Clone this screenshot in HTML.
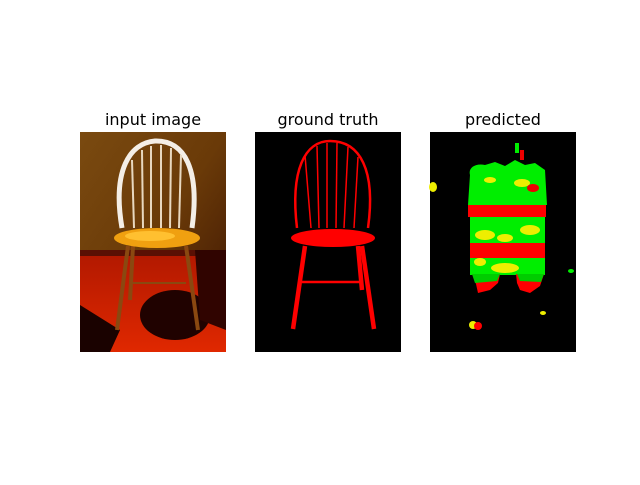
<!DOCTYPE html>
<html><head><meta charset="utf-8"><style>
body{margin:0;background:#fff;width:640px;height:480px;overflow:hidden;font-family:"Liberation Sans","DejaVu Sans",sans-serif}
</style></head><body>
<svg width="640" height="480" viewBox="0 0 640 480" font-family="DejaVu Sans, Liberation Sans, sans-serif">
<defs>
<linearGradient id="wall" x1="0" y1="0" x2="1" y2="1">
<stop offset="0" stop-color="#7a4a10"/><stop offset="0.5" stop-color="#6a3a08"/><stop offset="1" stop-color="#3a1202"/>
</linearGradient>
<linearGradient id="floor" x1="0" y1="0" x2="0" y2="1">
<stop offset="0" stop-color="#b01800"/><stop offset="1" stop-color="#e02800"/>
</linearGradient>
<clipPath id="c1"><rect x="80" y="132" width="146" height="220"/></clipPath>
</defs>
<text x="153" y="125" text-anchor="middle" font-size="16">input image</text>
<text x="328" y="125" text-anchor="middle" font-size="16">ground truth</text>
<text x="503" y="125" text-anchor="middle" font-size="16">predicted</text>

<g clip-path="url(#c1)">
<rect x="80" y="132" width="146" height="220" fill="url(#wall)"/>
<rect x="80" y="250" width="146" height="102" fill="url(#floor)"/>
<rect x="80" y="250" width="146" height="6" fill="#5a1004"/>
<polygon points="80,305 80,352 110,352 120,330" fill="#1a0200"/>
<ellipse cx="175" cy="315" rx="35" ry="25" fill="#200200"/>
<polygon points="195,250 226,250 226,330 200,320" fill="#300400"/>
<path d="M122,228 C112,170 130,143 155,141 C185,140 200,170 192,228" fill="none" stroke="#f4eee6" stroke-width="5"/>
<g stroke="#e8d8c0" stroke-width="2">
<line x1="132" y1="160" x2="134" y2="228"/><line x1="142" y1="150" x2="143" y2="228"/><line x1="151" y1="146" x2="151" y2="228"/><line x1="161" y1="145" x2="161" y2="228"/><line x1="171" y1="148" x2="170" y2="228"/><line x1="181" y1="155" x2="179" y2="228"/>
</g>
<g stroke="#8a4810" stroke-width="4">
<line x1="128" y1="246" x2="117" y2="330"/><line x1="186" y1="246" x2="198" y2="330"/><line x1="133" y1="246" x2="130" y2="300"/><line x1="130" y1="283" x2="186" y2="283" stroke-width="2"/>
</g>
<ellipse cx="157" cy="238" rx="43" ry="10" fill="#f0a010"/>
<ellipse cx="150" cy="236" rx="25" ry="5" fill="#ffc030"/>
</g>

<g>
<rect x="255" y="132" width="146" height="220" fill="#000"/>
<path d="M297,228 C290,170 305,141 330,141 C360,141 376,170 368,228" fill="none" stroke="#f00" stroke-width="2.5"/>
<g stroke="#f00" stroke-width="1.5">
<line x1="305" y1="155" x2="311" y2="228"/><line x1="317" y1="146" x2="319" y2="228"/><line x1="327" y1="143" x2="327" y2="228"/><line x1="337" y1="143" x2="336" y2="228"/><line x1="348" y1="147" x2="344" y2="228"/><line x1="358" y1="157" x2="354" y2="228"/>
</g>
<ellipse cx="333" cy="238" rx="42" ry="9" fill="#f00"/>
<g stroke="#f00" stroke-width="4.5">
<line x1="305" y1="246" x2="293" y2="329"/><line x1="362" y1="246" x2="374" y2="329"/><line x1="358" y1="246" x2="362" y2="290"/>
</g>
<line x1="302" y1="282" x2="362" y2="282" stroke="#f00" stroke-width="2.5"/>
</g>

<g>
<rect x="430" y="132" width="146" height="220" fill="#000"/>
<path d="M470,175 C468,168 475,163 485,165 L495,162 L505,166 L515,160 L525,165 L535,163 L545,170 L547,205 L468,205 Z" fill="#00ee00"/>
<rect x="468" y="205" width="78" height="12" fill="#f00"/>
<rect x="470" y="217" width="75" height="26" fill="#00ee00"/>
<ellipse cx="485" cy="235" rx="10" ry="5" fill="#ee0"/>
<ellipse cx="530" cy="230" rx="10" ry="5" fill="#ee0"/>
<ellipse cx="505" cy="238" rx="8" ry="4" fill="#ee0"/>
<rect x="470" y="243" width="75" height="15" fill="#f00"/>
<rect x="470" y="258" width="75" height="17" fill="#00ee00"/>
<ellipse cx="505" cy="268" rx="14" ry="5" fill="#ee0"/>
<ellipse cx="480" cy="262" rx="6" ry="4" fill="#ee0"/>
<path d="M472,274 L500,274 L498,283 L490,290 L478,293 L476,284 Z" fill="#f00"/>
<path d="M516,274 L544,274 L540,286 L530,293 L520,290 L517,283 Z" fill="#f00"/>
<path d="M472,274 L500,274 L497,281 L475,283 Z" fill="#00cc00"/>
<path d="M517,274 L544,274 L541,282 L520,281 Z" fill="#00cc00"/>
<ellipse cx="490" cy="180" rx="6" ry="3" fill="#ee0"/>
<ellipse cx="522" cy="183" rx="8" ry="4" fill="#ee0"/>
<ellipse cx="533" cy="188" rx="6" ry="4" fill="#e00"/>
<rect x="515" y="143" width="4" height="10" fill="#0e0"/>
<rect x="520" y="150" width="4" height="10" fill="#e00"/>
<ellipse cx="433" cy="187" rx="4" ry="5" fill="#ee0"/>
<ellipse cx="473" cy="325" rx="4" ry="4" fill="#ee0"/>
<ellipse cx="478" cy="326" rx="4" ry="4" fill="#f00"/>
<ellipse cx="543" cy="313" rx="3" ry="2" fill="#ee0"/>
<ellipse cx="571" cy="271" rx="3" ry="2" fill="#0e0"/>
</g>
</svg>
</body></html>
